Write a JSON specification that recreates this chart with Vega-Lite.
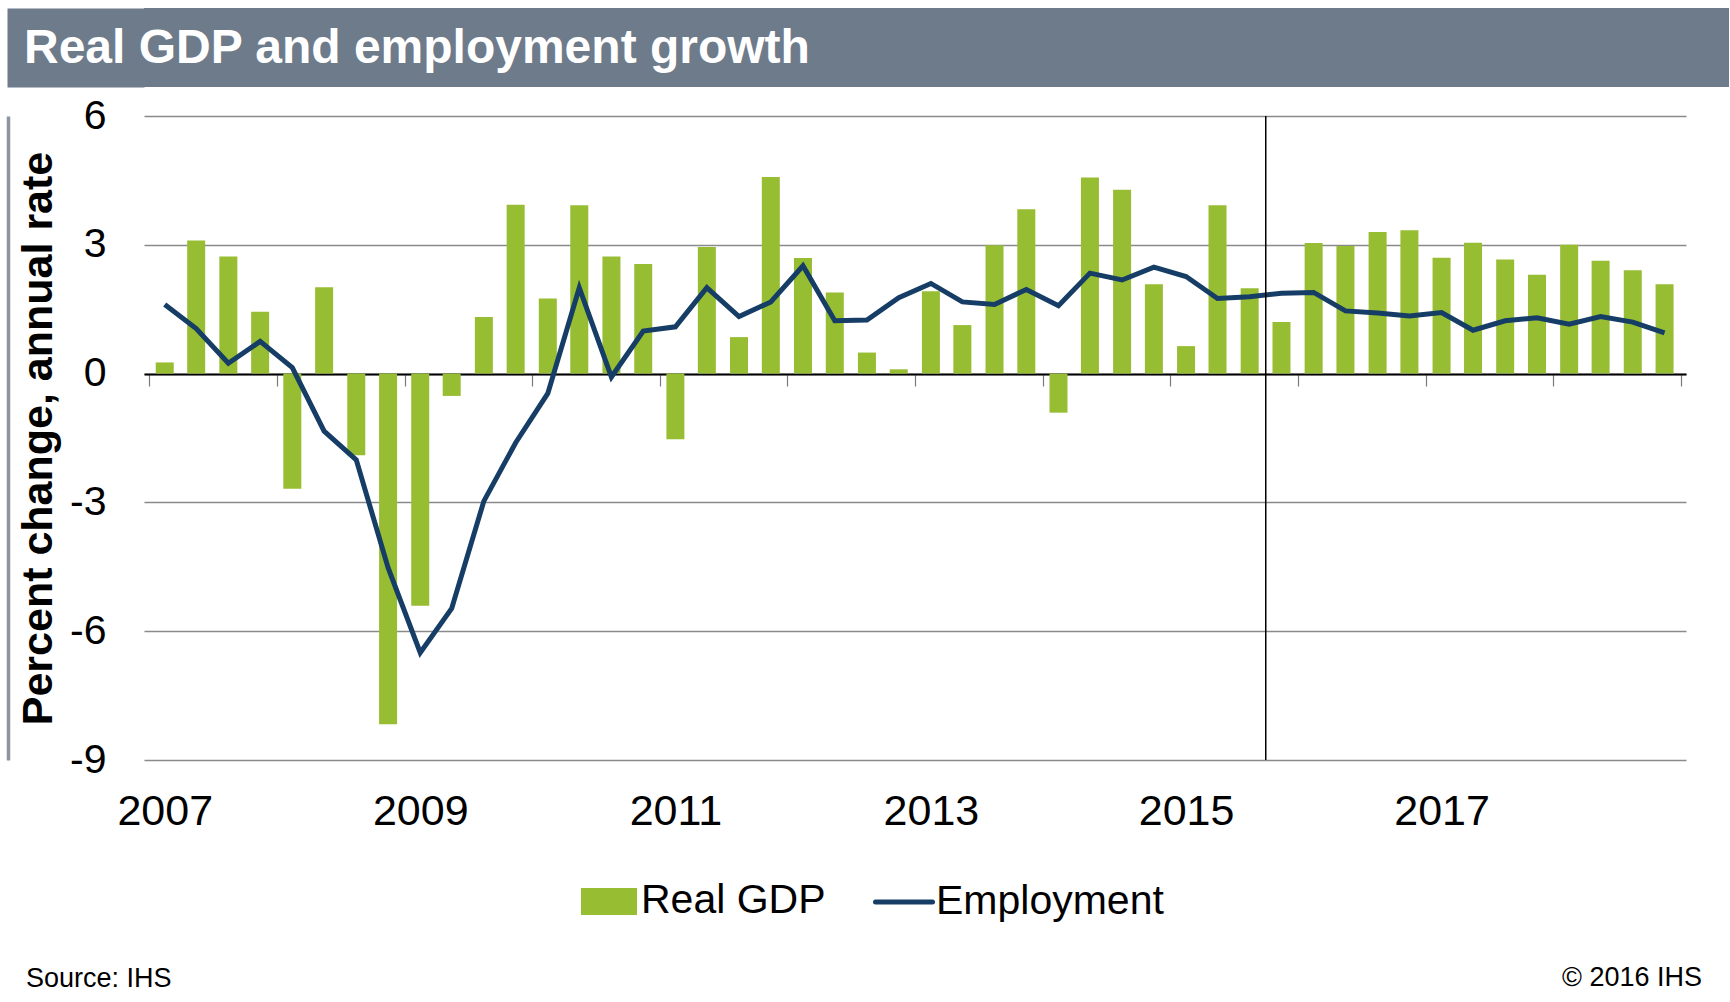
{
  "$schema": "https://vega.github.io/schema/vega-lite/v6.json",
  "background": "white",
  "padding": {"left": 8, "top": 8, "right": 0, "bottom": 0},
  "spacing": 8,
  "align": "none",
  "config": {"font": "Liberation Sans", "view": {"stroke": null}},
  "title": {"text": "© 2016 IHS", "orient": "bottom", "anchor": "end", "frame": "bounds", "baseline": "alphabetic", "offset": -6, "dx": -27, "fontSize": 27, "fontWeight": "normal", "color": "black"},
  "vconcat": [
    {
      "width": 1585,
      "height": 79,
      "view": {"fill": "#6e7b8b", "stroke": null},
      "data": {"values": [{"title": "Real GDP and employment growth"}]},
      "mark": {"type": "rect", "color": "#6e7b8b"},
      "encoding": {
        "y": {
          "field": "title", "type": "nominal",
          "scale": {"paddingInner": 0, "paddingOuter": 0},
          "axis": {"orient": "left", "offset": 68.5, "domain": true, "domainColor": "#6e7b8b", "domainWidth": 137, "labels": false, "ticks": false, "title": null, "grid": false, "minExtent": 0, "zindex": 0}
        }
      },
      "title": {"text": "Real GDP and employment growth", "orient": "top", "anchor": "start", "frame": "group", "baseline": "alphabetic", "offset": -103, "dx": -120, "color": "white", "fontSize": 48, "fontWeight": "bold", "zindex": 2}
    },
    {
      "width": 1542,
      "height": 644,
      "data": {"values": [
        {"date": "2007-02-15", "gdp": 0.26, "emp": 1.61},
        {"date": "2007-05-16", "gdp": 3.10, "emp": 1.05},
        {"date": "2007-08-16", "gdp": 2.73, "emp": 0.24},
        {"date": "2007-11-15", "gdp": 1.44, "emp": 0.75},
        {"date": "2008-02-15", "gdp": -2.68, "emp": 0.14},
        {"date": "2008-05-16", "gdp": 2.01, "emp": -1.34},
        {"date": "2008-08-16", "gdp": -1.90, "emp": -2.01},
        {"date": "2008-11-15", "gdp": -8.17, "emp": -4.52},
        {"date": "2009-02-15", "gdp": -5.41, "emp": -6.50},
        {"date": "2009-05-16", "gdp": -0.52, "emp": -5.47},
        {"date": "2009-08-16", "gdp": 1.32, "emp": -2.97},
        {"date": "2009-11-15", "gdp": 3.93, "emp": -1.61},
        {"date": "2010-02-15", "gdp": 1.75, "emp": -0.46},
        {"date": "2010-05-16", "gdp": 3.92, "emp": 2.00},
        {"date": "2010-08-16", "gdp": 2.73, "emp": -0.08},
        {"date": "2010-11-15", "gdp": 2.55, "emp": 0.99},
        {"date": "2011-02-15", "gdp": -1.53, "emp": 1.09},
        {"date": "2011-05-16", "gdp": 2.95, "emp": 2.00},
        {"date": "2011-08-16", "gdp": 0.85, "emp": 1.33},
        {"date": "2011-11-15", "gdp": 4.58, "emp": 1.67},
        {"date": "2012-02-15", "gdp": 2.69, "emp": 2.51},
        {"date": "2012-05-16", "gdp": 1.89, "emp": 1.23},
        {"date": "2012-08-16", "gdp": 0.49, "emp": 1.25},
        {"date": "2012-11-15", "gdp": 0.10, "emp": 1.77},
        {"date": "2013-02-15", "gdp": 1.92, "emp": 2.10},
        {"date": "2013-05-16", "gdp": 1.13, "emp": 1.67},
        {"date": "2013-08-16", "gdp": 2.99, "emp": 1.61},
        {"date": "2013-11-15", "gdp": 3.83, "emp": 1.96},
        {"date": "2014-02-15", "gdp": -0.91, "emp": 1.58},
        {"date": "2014-05-16", "gdp": 4.57, "emp": 2.34},
        {"date": "2014-08-16", "gdp": 4.28, "emp": 2.18},
        {"date": "2014-11-15", "gdp": 2.08, "emp": 2.48},
        {"date": "2015-02-15", "gdp": 0.64, "emp": 2.26},
        {"date": "2015-05-16", "gdp": 3.92, "emp": 1.75},
        {"date": "2015-08-16", "gdp": 1.99, "emp": 1.79},
        {"date": "2015-11-15", "gdp": 1.20, "emp": 1.87},
        {"date": "2016-02-15", "gdp": 3.04, "emp": 1.89},
        {"date": "2016-05-16", "gdp": 2.97, "emp": 1.46},
        {"date": "2016-08-16", "gdp": 3.30, "emp": 1.41},
        {"date": "2016-11-15", "gdp": 3.34, "emp": 1.34},
        {"date": "2017-02-15", "gdp": 2.70, "emp": 1.42},
        {"date": "2017-05-16", "gdp": 3.05, "emp": 1.01},
        {"date": "2017-08-16", "gdp": 2.66, "emp": 1.23},
        {"date": "2017-11-15", "gdp": 2.30, "emp": 1.30},
        {"date": "2018-02-15", "gdp": 3.00, "emp": 1.15},
        {"date": "2018-05-16", "gdp": 2.63, "emp": 1.33},
        {"date": "2018-08-16", "gdp": 2.41, "emp": 1.20},
        {"date": "2018-11-15", "gdp": 2.08, "emp": 0.95}
      ]},
      "title": {"text": "Source: IHS", "orient": "bottom", "anchor": "start", "frame": "bounds", "baseline": "alphabetic", "offset": 154, "dx": 18, "fontSize": 27, "fontWeight": "normal", "color": "black"},
      "layer": [
        {
          "mark": {"type": "bar", "size": 18},
          "encoding": {
            "x": {
              "field": "date", "type": "temporal",
              "scale": {"type": "utc", "nice": false, "domain": [{"year": 2007, "month": 1, "date": 1, "utc": true}, {"year": 2019, "month": 1, "date": 1, "utc": true}]},
              "axis": {
                "orient": "bottom", "title": null,
                "values": [
                  {"year": 2007, "month": 2, "date": 15, "utc": true},
                  {"year": 2009, "month": 2, "date": 15, "utc": true},
                  {"year": 2011, "month": 2, "date": 15, "utc": true},
                  {"year": 2013, "month": 2, "date": 15, "utc": true},
                  {"year": 2015, "month": 2, "date": 15, "utc": true},
                  {"year": 2017, "month": 2, "date": 15, "utc": true}
                ],
                "labelExpr": "utcFormat(datum.value, '%Y')",
                "domain": false, "ticks": false, "tickSize": 0, "grid": false,
                "labelFontSize": 43, "labelColor": "black", "labelPadding": 30,
                "labelFlush": false, "labelOverlap": false, "labelBaseline": "top"
              }
            },
            "y": {
              "field": "gdp", "type": "quantitative",
              "scale": {"domain": [-9, 6], "nice": false},
              "axis": {
                "orient": "left", "values": [-9, -6, -3, 0, 3, 6],
                "labelExpr": "'' + datum.value",
                "title": "Percent change, annual rate",
                "titleFontSize": 43, "titleFontWeight": "bold", "titleColor": "black", "titlePadding": 9,
                "labelFontSize": 41, "labelColor": "black", "labelPadding": 38, "labelOverlap": false,
                "domain": false, "ticks": false, "tickSize": 0,
                "grid": true, "gridColor": "#8a8a8a", "gridWidth": 1.5
              }
            },
            "color": {
              "datum": "Real GDP",
              "scale": {"domain": ["Real GDP", "Employment"], "range": ["#97bd33", "#163d65"]},
              "legend": {
                "orient": "none", "legendX": 434, "legendY": 862, "direction": "horizontal", "title": null,
                "labelFontSize": 41, "labelColor": "black", "labelOffset": 1, "columnPadding": 39,
                "symbolSize": 3249, "padding": 0, "labelLimit": 500,
                "encode": {"symbols": {"update": {
                  "shape": {"signal": "datum.value === 'Real GDP' ? 'M-0.895,-0.386H0.895V0.386H-0.895Z' : 'stroke'"},
                  "fill": {"signal": "datum.value === 'Real GDP' ? '#97bd33' : 'transparent'"},
                  "stroke": {"signal": "datum.value === 'Real GDP' ? 'transparent' : '#163d65'"},
                  "strokeWidth": {"value": 5},
                  "strokeCap": {"value": "round"},
                  "opacity": {"value": 1}, "fillOpacity": {"value": 1}, "strokeOpacity": {"value": 1}
                }}}
              }
            }
          }
        },
        {
          "mark": {"type": "line", "strokeWidth": 5},
          "encoding": {
            "x": {
              "field": "date", "type": "temporal",
              "scale": {"type": "utc", "nice": false, "domain": [{"year": 2007, "month": 1, "date": 1, "utc": true}, {"year": 2019, "month": 1, "date": 1, "utc": true}]},
              "axis": {
                "orient": "bottom", "offset": -386, "title": null,
                "values": [
                  {"year": 2007, "month": 1, "date": 1, "utc": true},
                  {"year": 2008, "month": 1, "date": 1, "utc": true},
                  {"year": 2009, "month": 1, "date": 1, "utc": true},
                  {"year": 2010, "month": 1, "date": 1, "utc": true},
                  {"year": 2011, "month": 1, "date": 1, "utc": true},
                  {"year": 2012, "month": 1, "date": 1, "utc": true},
                  {"year": 2013, "month": 1, "date": 1, "utc": true},
                  {"year": 2014, "month": 1, "date": 1, "utc": true},
                  {"year": 2015, "month": 1, "date": 1, "utc": true},
                  {"year": 2016, "month": 1, "date": 1, "utc": true},
                  {"year": 2017, "month": 1, "date": 1, "utc": true},
                  {"year": 2018, "month": 1, "date": 1, "utc": true},
                  {"year": 2019, "month": 1, "date": 1, "utc": true}
                ],
                "labels": false, "grid": false,
                "domain": true, "domainColor": "black", "domainWidth": 2,
                "ticks": true, "tickColor": "#7a7a7a", "tickWidth": 1.2, "tickSize": 12
              }
            },
            "y": {
              "field": "emp", "type": "quantitative",
              "scale": {"domain": [-9, 6], "nice": false},
              "axis": {
                "orient": "left", "offset": 136, "title": null, "labels": false, "ticks": false, "grid": false,
                "domain": true, "domainColor": "#8c95a1", "domainWidth": 3.5, "minExtent": 0
              }
            },
            "color": {
              "datum": "Employment",
              "scale": {"domain": ["Real GDP", "Employment"], "range": ["#97bd33", "#163d65"]},
              "legend": {
                "orient": "none", "legendX": 434, "legendY": 862, "direction": "horizontal", "title": null,
                "labelFontSize": 41, "labelColor": "black", "labelOffset": 1, "columnPadding": 39,
                "symbolSize": 3249, "padding": 0, "labelLimit": 500,
                "encode": {"symbols": {"update": {
                  "shape": {"signal": "datum.value === 'Real GDP' ? 'M-0.895,-0.386H0.895V0.386H-0.895Z' : 'stroke'"},
                  "fill": {"signal": "datum.value === 'Real GDP' ? '#97bd33' : 'transparent'"},
                  "stroke": {"signal": "datum.value === 'Real GDP' ? 'transparent' : '#163d65'"},
                  "strokeWidth": {"value": 5},
                  "strokeCap": {"value": "round"},
                  "opacity": {"value": 1}, "fillOpacity": {"value": 1}, "strokeOpacity": {"value": 1}
                }}}
              }
            }
          }
        },
        {
          "data": {"values": [{"date": "2015-10-01"}]},
          "mark": {"type": "rule", "color": "black", "strokeWidth": 1.5},
          "encoding": {
            "x": {
              "field": "date", "type": "temporal",
              "scale": {"type": "utc", "nice": false, "domain": [{"year": 2007, "month": 1, "date": 1, "utc": true}, {"year": 2019, "month": 1, "date": 1, "utc": true}]},
              "axis": null
            }
          }
        }
      ],
      "resolve": {"axis": {"x": "independent", "y": "independent"}}
    }
  ]
}
